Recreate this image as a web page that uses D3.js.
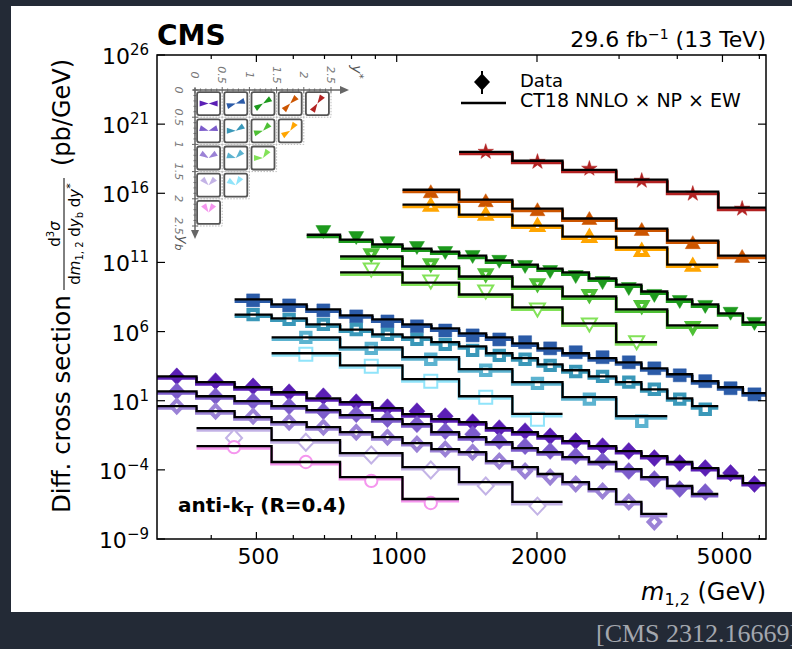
<!DOCTYPE html>
<html lang="en">
<head>
<meta charset="UTF-8">
<script src="https://cdn.jsdelivr.net/npm/d3@7"></script>
<title>CMS triple-differential dijet cross section</title>
<style>
    body { margin: 0; background: #232a36; }
    svg text { font-family: "DejaVu Sans", sans-serif; }
</style>
</head>
<body>
<svg id="chart" width="792" height="649"></svg>
<script>
// m1,2 bin edges (GeV)
var massEdges = [306, 372, 449, 539, 641, 756, 887, 1029, 1187, 1361, 1556, 1771, 2008, 2269,
                 2585, 2958, 3350, 3807, 4306, 4898, 5530, 6200];
var coarseEdges = [372, 539, 756, 1029, 1361, 1771, 2269, 2958, 3807, 4898, 6200];
var lastEdgeYb2Ys2 = 3620;

// cross sections as drawn (pb/GeV, incl. the plot's scale factors)
// yb 0-0.5
var yb0ys0Data = [5.8e2, 2.6e2, 1.1e2, 41, 21, 7.8, 3.4, 1.75, 0.76, 0.28, 0.104, 0.063, 0.027, 0.012, 5.2e-3, 2.3e-3, 7.1e-4, 3.1e-4, 1.35e-4, 5.9e-5, 9.4e-6];
var yb0ys0Theory = [5.8e2, 2.2e2, 94, 41, 15, 7.8, 2.9, 1.06, 0.46, 0.28, 0.104, 0.053, 0.027, 0.012, 5.2e-3, 2.3e-3, 9.9e-4, 3.7e-4, 1.35e-4, 3.6e-5, 1.1e-5];
var yb0ys1Data = [1.8e8, 7.8e7, 3.4e7, 1.25e7, 5.4e6, 2.4e6, 1.2e6, 5.3e5, 2.7e5, 1.7e5, 6.1e4, 3.2e4, 1.4e4, 6.0e3, 2.2e3, 6.9e2, 2.6e2, 80, 29];
var yb0ys1Theory = [2.1e8, 9.2e7, 4.0e7, 1.5e7, 7.6e6, 3.3e6, 1.7e6, 7.4e5, 3.8e5, 1.4e5, 6.1e4, 2.7e4, 1.2e4, 6.0e3, 2.2e3, 8.2e2, 2.6e2, 94, 35];
var yb0ys2Data = [1.7e13, 6.3e12, 2.7e12, 1.2e12, 5.2e11, 2.7e11, 1.2e11, 5.1e10, 2.2e10, 9.6e9, 3.5e9, 1.3e9, 4.1e8, 1.5e8, 6.6e7, 2.1e7, 3.9e6];
var yb0ys2Theory = [1.0e13, 4.5e12, 2.0e12, 1.0e12, 6.1e11, 3.1e11, 1.4e11, 7.0e10, 3.6e10, 1.9e10, 6.9e9, 2.5e9, 7.9e8, 2.1e8, 9.2e7, 2.1e7, 4.6e6];
var yb0ys3Data = [1.3e16, 2.9e15, 6.5e14, 1.5e14, 2.4e13, 2.7e12, 2.7e11];
var yb0ys3Theory = [1.8e16, 3.5e15, 7.7e14, 1.5e14, 2.8e13, 3.8e12, 3.1e11];
var yb0ys4Data = [1.0e19, 1.9e18, 6.0e17, 8.1e16, 9.3e15, 7.7e14];
var yb0ys4Theory = [1.0e19, 2.25e18, 5.0e17, 9.6e16, 1.3e16, 9.1e14];
// yb 0.5-1
var yb1ys0Data = [48, 21, 9.2, 4.0, 1.75, 1.06, 0.46, 0.20, 0.063, 0.038, 0.012, 5.2e-3, 2.3e-3, 9.9e-4, 4.3e-4, 8.2e-5, 2.2e-5, 4.1e-6, 2.5e-6];
var yb1ys0Theory = [48, 21, 9.2, 4.0, 2.1, 0.90, 0.46, 0.20, 0.053, 0.023, 0.010, 3.7e-3, 1.9e-3, 8.4e-4, 3.7e-4, 1.14e-4, 3.0e-5, 6.8e-6, 1.8e-6];
var yb1ys1Data = [1.7e7, 7.6e6, 3.3e6, 1.4e6, 6.3e5, 2.7e5, 1.2e5, 4.4e4, 1.9e4, 9.9e3, 3.6e3, 1.3e3, 5.8e2, 2.2e2, 67, 13, 2.4];
var yb1ys1Theory = [1.7e7, 9.0e6, 3.3e6, 1.4e6, 6.3e5, 3.8e5, 1.7e5, 8.6e4, 2.7e4, 1.2e4, 4.3e3, 1.6e3, 5.8e2, 2.2e2, 67, 15, 4.0];
var yb1ys2Data = [3.7e11, 7.0e10, 1.3e10, 2.5e9, 4.1e8, 6.6e7, 2.0e6];
var yb1ys2Theory = [2.7e11, 5.1e10, 9.6e9, 1.8e9, 3.5e8, 4.0e7, 2.8e6];
var yb1ys3Data = [1.3e15, 2.9e14, 4.6e13, 7.4e12, 7.2e11, 6.0e10];
var yb1ys3Theory = [1.5e15, 2.9e14, 4.6e13, 7.4e12, 1.2e12, 7.0e10];
// yb 1-1.5
var yb2ys0Data = [4.0, 1.75, 0.76, 0.28, 0.122, 0.053, 0.023, 7.3e-3, 3.2e-3, 1.9e-3, 4.3e-4, 8.2e-5, 3.0e-5, 9.4e-6, 3.0e-6, 4.8e-7, 1.7e-8];
var yb2ys0Theory = [4.0, 1.75, 0.64, 0.28, 0.122, 0.053, 0.023, 8.6e-3, 3.2e-3, 1.9e-3, 4.3e-4, 1.6e-4, 5.0e-5, 1.3e-5, 4.1e-6, 4.8e-7, 6.5e-8];
var yb2ys1Data = [3.8e5, 6.1e4, 9.9e3, 1.6e3, 1.8e2, 13, 0.33];
var yb2ys1Theory = [3.8e5, 7.2e4, 1.4e4, 1.9e3, 2.2e2, 18, 0.76];
var yb2ys2Data = [3.1e10, 4.2e9, 7.9e8, 4.0e7, 3.3e6, 1.7e5];
var yb2ys2Theory = [1.9e10, 3.5e9, 4.8e8, 5.6e7, 3.9e6, 1.7e5];
// yb 1.5-2
var yb3ys0Data = [0.020, 0.010, 1.2e-3, 9.7e-5, 6.8e-6, 2.4e-7];
var yb3ys0Theory = [0.104, 0.014, 1.6e-3, 1.6e-4, 1.3e-5, 4.8e-7];
var yb3ys1Data = [2.3e4, 3.1e3, 2.6e2, 18, 0.46];
var yb3ys1Theory = [2.7e4, 3.6e3, 3.6e2, 21, 1.1];
// yb 2-2.5
var yb4ys0Data = [4.4e-3, 3.7e-4, 1.6e-5, 4.0e-7];
var yb4ys0Theory = [5.2e-3, 3.7e-4, 3.0e-5, 7.8e-7];

var yTicks = [1e-9, 1e-4, 1e1, 1e6, 1e11, 1e16, 1e21, 1e26];
var xTicks = [500, 1000, 2000, 5000];
var xMinorTicks = [400, 600, 700, 800, 900, 3000, 4000, 6000];
var insetTicks = [0, 0.5, 1, 1.5, 2, 2.5];

var series = [
    { yb: 0, ys: 0, color: "#5b1fb5", shape: "diamond", style: "fill", edges: massEdges, data: yb0ys0Data, theory: yb0ys0Theory },
    { yb: 1, ys: 0, color: "#7c5ccb", shape: "diamond", style: "fill", edges: massEdges.slice(0, 20), data: yb1ys0Data, theory: yb1ys0Theory },
    { yb: 2, ys: 0, color: "#9b82d6", shape: "diamond", style: "thick", edges: massEdges.slice(0, 18), data: yb2ys0Data, theory: yb2ys0Theory },
    { yb: 3, ys: 0, color: "#c3b3e6", shape: "diamond", style: "open", edges: coarseEdges.slice(0, 7), data: yb3ys0Data, theory: yb3ys0Theory },
    { yb: 4, ys: 0, color: "#f596ee", shape: "circle", style: "open", edges: coarseEdges.slice(0, 5), data: yb4ys0Data, theory: yb4ys0Theory },
    { yb: 0, ys: 1, color: "#2b5ba8", shape: "square", style: "fill", edges: massEdges.slice(2), data: yb0ys1Data, theory: yb0ys1Theory },
    { yb: 1, ys: 1, color: "#3a98b9", shape: "square", style: "thick", edges: massEdges.slice(2, 20), data: yb1ys1Data, theory: yb1ys1Theory },
    { yb: 2, ys: 1, color: "#5cb3d0", shape: "square", style: "thick", edges: coarseEdges.slice(1, 9), data: yb2ys1Data, theory: yb2ys1Theory },
    { yb: 3, ys: 1, color: "#90e4fa", shape: "square", style: "open", edges: coarseEdges.slice(1, 7), data: yb3ys1Data, theory: yb3ys1Theory },
    { yb: 0, ys: 2, color: "#1d9a1d", shape: "tridown", style: "fill", edges: massEdges.slice(4), data: yb0ys2Data, theory: yb0ys2Theory },
    { yb: 1, ys: 2, color: "#4ec035", shape: "tridown", style: "thick", edges: coarseEdges.slice(2, 10), data: yb1ys2Data, theory: yb1ys2Theory },
    { yb: 2, ys: 2, color: "#82e258", shape: "tridown", style: "open", edges: coarseEdges.slice(2, 8).concat([lastEdgeYb2Ys2]), data: yb2ys2Data, theory: yb2ys2Theory },
    { yb: 0, ys: 3, color: "#cc5500", shape: "triup", style: "fill", edges: coarseEdges.slice(3), data: yb0ys3Data, theory: yb0ys3Theory },
    { yb: 1, ys: 3, color: "#ffa500", shape: "triup", style: "thick", edges: coarseEdges.slice(3, 10), data: yb1ys3Data, theory: yb1ys3Theory },
    { yb: 0, ys: 4, color: "#b22222", shape: "star", style: "fill", edges: coarseEdges.slice(4), data: yb0ys4Data, theory: yb0ys4Theory }
];

var pLeft = 157, pRight = 766, pTop = 55, pBottom = 539;

var svg = d3.select("#chart");

// page panel
svg.append("rect").attr("x", 11).attr("y", 6).attr("width", 781).attr("height", 606).attr("fill", "#fff");

var x = d3.scaleLog().domain([306, 6200]).range([pLeft, pRight]);
var y = d3.scaleLog().domain([1e-9, 1e26]).range([pBottom, pTop]);

svg.append("defs").append("clipPath").attr("id", "clip")
    .append("rect").attr("x", pLeft).attr("y", pTop).attr("width", pRight - pLeft).attr("height", pBottom - pTop);

// k scales the marker outline (thick-outlined markers are drawn a bit smaller)
function markerPath(shape, k) {
    k = k || 1;
    if (shape === "diamond") return "M0," + (-8.5 * k) + "L" + (8 * k) + ",0L0," + (8.5 * k) + "L" + (-8 * k) + ",0Z";
    if (shape === "square") return "M" + (-6.5 * k) + "," + (-6.5 * k) + "h" + (13 * k) + "v" + (13 * k) + "h" + (-13 * k) + "Z";
    if (shape === "tridown") return "M" + (-7.5 * k) + "," + (-6 * k) + "H" + (7.5 * k) + "L0," + (7 * k) + "Z";
    if (shape === "triup") return "M" + (-7.5 * k) + "," + (6 * k) + "H" + (7.5 * k) + "L0," + (-7 * k) + "Z";
    if (shape === "circle") return d3.symbol(d3.symbolCircle, 120 * k * k)();
    return d3.symbol(d3.symbolStar, 75 * k * k)();
}

var stepLine = d3.line()
    .x(function (d) { return x(d[0]); })
    .y(function (d) { return y(d[1]); })
    .curve(d3.curveStepAfter);

function stepPoints(s) {
    return s.edges.map(function (e, i) {
        return [e, s.theory[Math.min(i, s.theory.length - 1)]];
    });
}

var plot = svg.append("g").attr("clip-path", "url(#clip)");

// coloured theory underlay
plot.selectAll(".band").data(series).enter().append("path")
    .attr("d", function (s) { return stepLine(stepPoints(s)); })
    .attr("transform", "translate(0,2)")
    .attr("fill", "none")
    .attr("stroke", function (s) { return s.color; })
    .attr("stroke-width", 3);

// data markers
series.forEach(function (s) {
    var thick = s.style === "thick";
    plot.selectAll(null).data(s.data).enter().append("path")
        .attr("d", markerPath(s.shape, thick ? 0.72 : 1))
        .attr("transform", function (d, i) {
            return "translate(" + x(Math.sqrt(s.edges[i] * s.edges[i + 1])) + "," + y(d) + ")";
        })
        .attr("fill", s.style === "fill" ? s.color : "#fff")
        .attr("stroke", s.color)
        .attr("stroke-width", s.style === "fill" ? 0.5 : (thick ? 4 : 2))
        .attr("stroke-linejoin", "miter");
});

// black theory lines
plot.selectAll(".theory").data(series).enter().append("path")
    .attr("d", function (s) { return stepLine(stepPoints(s)); })
    .attr("fill", "none")
    .attr("stroke", "#000")
    .attr("stroke-width", 2.3);

// frame and ticks
svg.append("rect").attr("x", pLeft).attr("y", pTop).attr("width", pRight - pLeft).attr("height", pBottom - pTop)
    .attr("fill", "none").attr("stroke", "#000").attr("stroke-width", 1.5);

yTicks.forEach(function (t) {
    svg.append("line").attr("x1", pLeft).attr("x2", pLeft + 8).attr("y1", y(t)).attr("y2", y(t)).attr("stroke", "#000").attr("stroke-width", 1.2);
    svg.append("line").attr("x1", pRight - 8).attr("x2", pRight).attr("y1", y(t)).attr("y2", y(t)).attr("stroke", "#000").attr("stroke-width", 1.2);
    var lab = svg.append("text").attr("x", 149).attr("y", y(t) + 9).attr("text-anchor", "end")
        .attr("font-size", 22).attr("fill", "#000");
    lab.append("tspan").text("10");
    lab.append("tspan").attr("dy", -9).attr("font-size", 15)
        .text(String(Math.round(Math.log10(t))).replace("-", "\u2212"));
});

xTicks.concat(xMinorTicks).forEach(function (t) {
    var len = xTicks.indexOf(t) >= 0 ? 7 : 4;
    svg.append("line").attr("x1", x(t)).attr("x2", x(t)).attr("y1", pBottom).attr("y2", pBottom - len).attr("stroke", "#000").attr("stroke-width", 1.2);
    svg.append("line").attr("x1", x(t)).attr("x2", x(t)).attr("y1", pTop).attr("y2", pTop + len).attr("stroke", "#000").attr("stroke-width", 1.2);
});
xTicks.forEach(function (t) {
    svg.append("text").attr("x", x(t) + 2).attr("y", 564).attr("text-anchor", "middle")
        .attr("font-size", 22).text(t);
});

// axis titles
var xl = svg.append("text").attr("x", 766).attr("y", 600).attr("text-anchor", "end").attr("font-size", 24);
xl.append("tspan").attr("font-style", "italic").text("m");
xl.append("tspan").attr("font-size", 16).attr("dy", 5).text("1,2");
xl.append("tspan").attr("dy", -5).text(" (GeV)");

var yl = svg.append("g").attr("transform", "translate(70,0) rotate(-90)");
yl.append("text").attr("x", -513).attr("y", 0).attr("font-size", 24.5).text("Diff. cross section");
yl.append("line").attr("x1", -290).attr("x2", -178).attr("y1", -6).attr("y2", -6).attr("stroke", "#000").attr("stroke-width", 1);
var num = yl.append("text").attr("x", -234).attr("y", -10).attr("text-anchor", "middle").attr("font-size", 15);
num.append("tspan").text("d");
num.append("tspan").attr("font-size", 10).attr("dy", -6).text("3");
num.append("tspan").attr("dy", 6).attr("font-style", "italic").text("\u03c3");
var den = yl.append("text").attr("x", -234).attr("y", 10).attr("text-anchor", "middle").attr("font-size", 15);
den.append("tspan").text("d");
den.append("tspan").attr("font-style", "italic").text("m");
den.append("tspan").attr("font-size", 10).attr("dy", 3).text("1, 2");
den.append("tspan").attr("dy", -3).text(" d");
den.append("tspan").attr("font-style", "italic").text("y");
den.append("tspan").attr("font-size", 10).attr("dy", 3).text("b");
den.append("tspan").attr("dy", -3).text(" d");
den.append("tspan").attr("font-style", "italic").text("y");
den.append("tspan").attr("font-size", 11).attr("dy", -6).text("*");
yl.append("text").attr("x", -166).attr("y", 0).attr("font-size", 24).text("(pb/GeV)");

// headers
svg.append("text").attr("x", 157).attr("y", 45).attr("font-size", 28).attr("font-weight", "bold").text("CMS");
var lumi = svg.append("text").attr("x", 766).attr("y", 47).attr("text-anchor", "end").attr("font-size", 22);
lumi.append("tspan").text("29.6 fb");
lumi.append("tspan").attr("font-size", 14).attr("dy", -8).text("\u22121");
lumi.append("tspan").attr("dy", 8).text(" (13 TeV)");

var jet = svg.append("text").attr("x", 178).attr("y", 512).attr("font-size", 20).attr("font-weight", "bold");
jet.append("tspan").text("anti-k");
jet.append("tspan").attr("font-size", 14).attr("dy", 4).text("T");
jet.append("tspan").attr("dy", -4).text(" (R=0.4)");

// legend
svg.append("line").attr("x1", 482).attr("x2", 482).attr("y1", 71).attr("y2", 94).attr("stroke", "#000").attr("stroke-width", 2);
svg.append("path").attr("d", markerPath("diamond")).attr("transform", "translate(482,82)").attr("fill", "#000");
svg.append("text").attr("x", 520).attr("y", 87).attr("font-size", 18).text("Data");
svg.append("line").attr("x1", 461).attr("x2", 506).attr("y1", 103).attr("y2", 103).attr("stroke", "#000").attr("stroke-width", 2.3);
svg.append("text").attr("x", 520).attr("y", 107).attr("font-size", 19).text("CT18 NNLO \u00d7 NP \u00d7 EW");

// rapidity inset
var ix = d3.scaleLinear().domain([0, 2.5]).range([195, 331]);
var iy = d3.scaleLinear().domain([0, 2.5]).range([90, 226]);
var inset = svg.append("g");

series.forEach(function (s) {
    var x0 = ix(s.ys * 0.5), y0 = iy(s.yb * 0.5), w = ix(0.5) - ix(0);
    inset.append("rect").attr("x", x0).attr("y", y0).attr("width", w).attr("height", w)
        .attr("fill", "none").attr("stroke", "#bbb").attr("stroke-width", 1).attr("stroke-dasharray", "1.5,1.5");
    var cx = x0 + w / 2, cy = y0 + w / 2;
    inset.append("rect").attr("x", cx - 11.5).attr("y", cy - 11.5).attr("width", 23).attr("height", 23).attr("rx", 2)
        .attr("fill", "#fff").attr("stroke", "#555").attr("stroke-width", 1.8);
    // jet directions from the rapidities of the two jets
    var y1 = 0.6 * (s.yb * 0.5 + s.ys * 0.5), y2 = 0.6 * (s.yb * 0.5 - s.ys * 0.5);
    var a1 = Math.atan(Math.sinh(y1)), a2 = Math.atan(Math.sinh(y2));
    [[Math.cos(a1), -Math.sin(a1)], [-Math.cos(a2), -Math.sin(a2)]].forEach(function (dir) {
        var L = 9, hw = 3;
        var px = -dir[1], py = dir[0];
        var ex = cx + dir[0] * L, ey = cy + dir[1] * L;
        inset.append("path")
            .attr("d", "M" + cx + "," + cy + "L" + (ex + px * hw) + "," + (ey + py * hw) + "L" + (ex - px * hw) + "," + (ey - py * hw) + "Z")
            .attr("fill", s.color);
    });
});

inset.append("line").attr("x1", 193).attr("x2", 343).attr("y1", 90).attr("y2", 90).attr("stroke", "#666").attr("stroke-width", 1.5);
inset.append("path").attr("d", "M349,90L340,86L340,94Z").attr("fill", "#666");
inset.append("line").attr("x1", 195).attr("x2", 195).attr("y1", 88).attr("y2", 233).attr("stroke", "#666").attr("stroke-width", 1.5);
inset.append("path").attr("d", "M195,239L191,230L199,230Z").attr("fill", "#666");
d3.range(0, 2.55, 0.1).forEach(function (v) {
    var major = Math.abs(v * 2 - Math.round(v * 2)) < 1e-6;
    var l = major ? 3 : 1.5;
    inset.append("line").attr("x1", ix(v)).attr("x2", ix(v)).attr("y1", 90 - l).attr("y2", 90 + l).attr("stroke", "#666");
    inset.append("line").attr("x1", 195 - l).attr("x2", 195 + l).attr("y1", iy(v)).attr("y2", iy(v)).attr("stroke", "#666");
});
insetTicks.forEach(function (v) {
    inset.append("text").attr("transform", "translate(" + ix(v) + ",75) rotate(90)").attr("text-anchor", "middle")
        .attr("dy", "0.35em").attr("font-size", 11).attr("fill", "#777").attr("font-style", "italic").text(v);
    inset.append("text").attr("transform", "translate(179," + iy(v) + ") rotate(90)").attr("text-anchor", "middle")
        .attr("dy", "0.35em").attr("font-size", 11).attr("fill", "#777").attr("font-style", "italic").text(v);
});
var ysl = inset.append("text").attr("transform", "translate(352,72) rotate(90)").attr("text-anchor", "middle")
    .attr("font-size", 14).attr("fill", "#555").attr("font-style", "italic");
ysl.append("tspan").text("y");
ysl.append("tspan").attr("font-size", 10).attr("dy", -4).text("*");
var ybl = inset.append("text").attr("transform", "translate(178,243) rotate(90)").attr("text-anchor", "middle")
    .attr("font-size", 14).attr("fill", "#555").attr("font-style", "italic");
ybl.append("tspan").text("y");
ybl.append("tspan").attr("font-size", 10).attr("dy", 3).text("b");

// source note
svg.append("text").attr("x", 596).attr("y", 642).style("font-family", "'Liberation Serif', 'DejaVu Serif', serif")
    .attr("font-size", 26).attr("fill", "#a3a7ae").text("[CMS 2312.16669]");
</script>
</body>
</html>
